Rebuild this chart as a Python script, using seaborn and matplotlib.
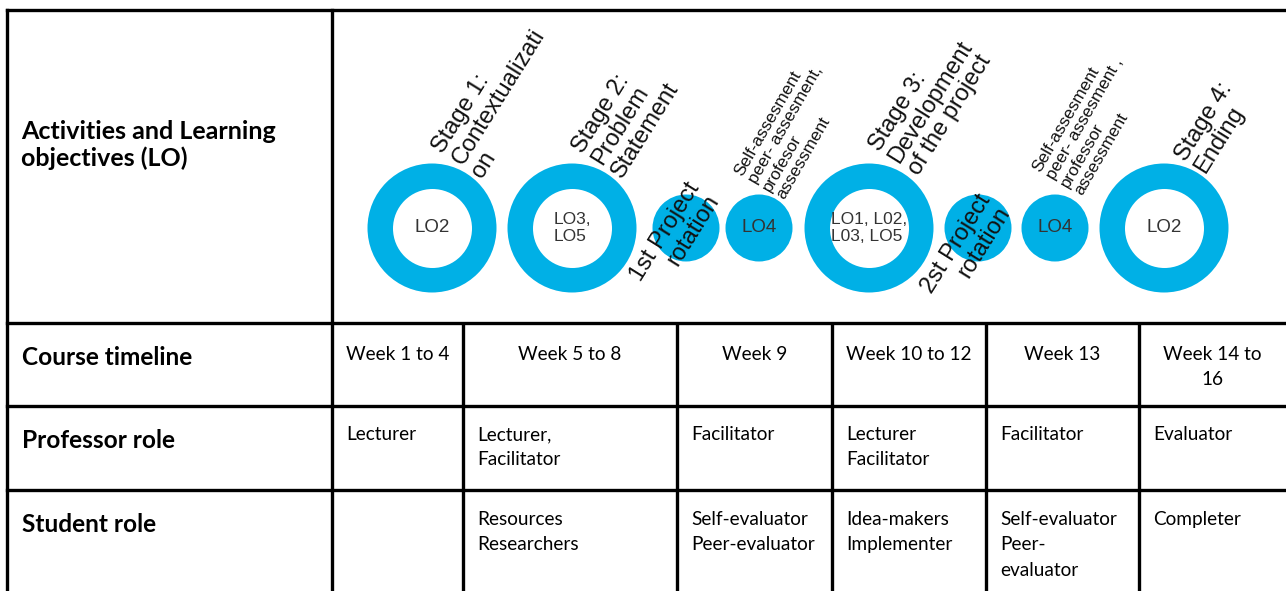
import matplotlib
matplotlib.use("Agg")
import matplotlib.pyplot as plt
import seaborn as sns
import pandas as pd

# ---------------- data ----------------
row_labels = ["Course timeline", "Professor role", "Student role"]
header_label = "Activities and Learning\nobjectives (LO)"
timeline = ["Week 1 to 4", "Week 5 to 8", "Week 9", "Week 10 to 12", "Week 13", "Week 14 to\n16"]
professor = ["Lecturer", "Lecturer,\nFacilitator", "Facilitator", "Lecturer\nFacilitator", "Facilitator", "Evaluator"]
student = ["", "Resources\nResearchers", "Self-evaluator\nPeer-evaluator", "Idea-makers\nImplementer",
           "Self-evaluator\nPeer-\nevaluator", "Completer"]

circle_labels = ["LO2", "LO3,\nLO5", "", "LO4", "LO1, L02,\nL03, LO5", "", "LO4", "LO2"]
circle_kind = ["ring", "ring", "dot", "dot", "ring", "dot", "dot", "ring"]
stage_labels = ["Stage 1:\nContextualizati\non", "Stage 2:\nProblem\nStatement",
                "Stage 3:\nDevelopment\nof the project", "Stage 4:\nEnding"]
rotation_labels = ["1st Project\nrotation", "2st Project\nrotation"]
assess_labels = ["Self-assesment\npeer- assesment,\nprofesor\nassessment",
                 "Self-assesment\npeer- assesment ,\nprofessor\nassessment"]

# ---------------- layout ----------------
W, H = 1286, 591
circle_x = [432, 572, 686, 759, 869, 978, 1055, 1164]
circle_y = 228
col_edges = [7, 332, 463, 677, 832, 986, 1139, 1286]
row_edges = [10, 323, 406, 490, 591]
stage_pos = [(481, 178), (621, 178), (918, 176), (1204, 174)]   # start of last line
rot_pos = [(675, 238), (966, 250)]
assess_pos = [(783, 200), (1081, 196)]                          # start of last line

BLUE = "#00B0E6"
LW = 2.4
INK = "black"

sns.set_theme(style="white")
plt.rcParams["font.family"] = ["Liberation Sans", "DejaVu Sans"]

fig = plt.figure(figsize=(W / 100, H / 100), dpi=100)
ax = fig.add_axes([0, 0, 1, 1])

df = pd.DataFrame({"x": circle_x, "y": [circle_y] * len(circle_x),
                   "kind": circle_kind, "label": circle_labels})

px2pt = 0.72
def s_of(radius_px):
    return (2 * radius_px * px2pt) ** 2

sns.scatterplot(data=df, x="x", y="y", size="kind",
                sizes={"ring": s_of(64.5), "dot": s_of(33.5)},
                color=BLUE, linewidth=0, legend=False, ax=ax, zorder=2)
rings = df[df["kind"] == "ring"]
sns.scatterplot(data=rings, x="x", y="y", s=s_of(39.5), color="white",
                linewidth=0, legend=False, ax=ax, zorder=3)
ax.set_xlim(0, W)
ax.set_ylim(H, 0)
ax.axis("off")

for _, r in df.iterrows():
    if r["label"]:
        multi = "\n" in r["label"]
        ax.text(r["x"], r["y"], r["label"], ha="center", va="center", multialignment="left",
                fontsize=12.5 if multi else 13.5, linespacing=1.2,
                color="#333333", zorder=5)

# rotated labels
for (x, y), t in zip(stage_pos, stage_labels):
    ax.text(x, y, t, rotation=58, rotation_mode="anchor", ha="left", va="baseline",
            fontsize=17, linespacing=1.08, color="#111111", zorder=5)
for (x, y), t in zip(rot_pos, rotation_labels):
    ax.text(x, y, t, rotation=58, rotation_mode="anchor", ha="center", va="center",
            multialignment="right", fontsize=17, linespacing=1.08, color="#111111", zorder=5)
for (x, y), t in zip(assess_pos, assess_labels):
    ax.text(x, y, t, rotation=60, rotation_mode="anchor", ha="left", va="baseline",
            fontsize=12.3, linespacing=1.08, color="#111111", zorder=5)

# table grid
for y in row_edges[:4]:
    ax.plot([col_edges[0], W], [y, y], color="black", lw=LW, solid_capstyle="projecting")
for x in col_edges[:2]:
    ax.plot([x, x], [row_edges[0], H], color="black", lw=LW, solid_capstyle="projecting")
for x in col_edges[2:-1]:
    ax.plot([x, x], [row_edges[1], H], color="black", lw=LW, solid_capstyle="butt")

table_font = ["Lato", "DejaVu Sans"]
ax.text(21, 120, header_label, ha="left", va="top", fontsize=18, fontweight="bold",
        family=table_font, linespacing=1.2, color=INK)
label_tops = [346, 429, 513]
for lab, yt in zip(row_labels, label_tops):
    ax.text(22, yt, lab, ha="left", va="top", fontsize=17.6, fontweight="bold",
            family=table_font, color=INK)

cell_tops = [346, 426, 511]
for j in range(6):
    cx = (col_edges[j + 1] + col_edges[j + 2]) / 2
    ax.text(cx, cell_tops[0], timeline[j], ha="center", va="top", fontsize=13.7,
            family=table_font, linespacing=1.6, color=INK)
    ax.text(col_edges[j + 1] + 14, cell_tops[1], professor[j], ha="left", va="top",
            fontsize=13.7, family=table_font, linespacing=1.6, color=INK)
    ax.text(col_edges[j + 1] + 14, cell_tops[2], student[j], ha="left", va="top",
            fontsize=13.7, family=table_font, linespacing=1.6, color=INK)

fig.savefig("out.png", dpi=100, facecolor="white")
